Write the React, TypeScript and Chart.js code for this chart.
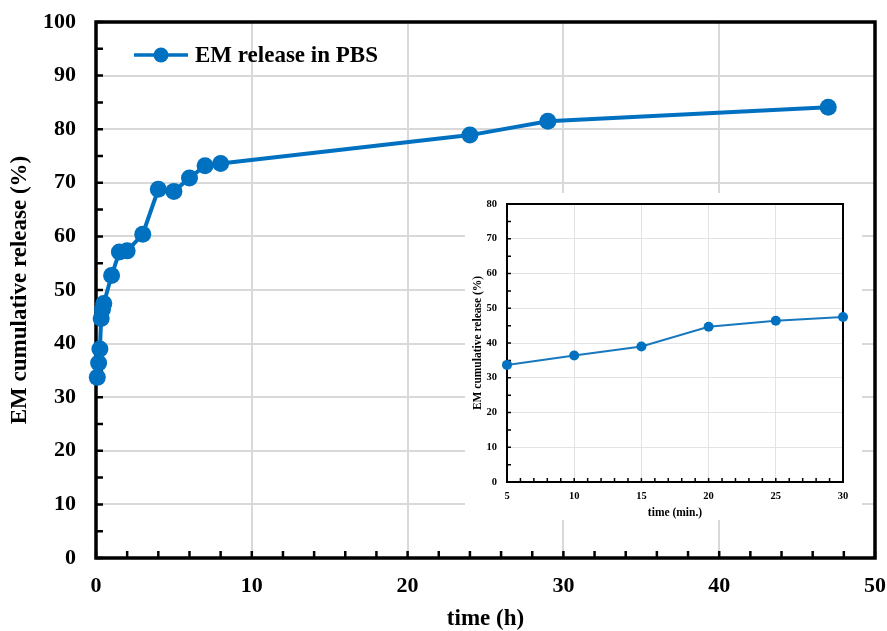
import React, { useEffect, useRef } from "react";
import { Chart, registerables } from "chart.js";

Chart.register(...registerables);

// ---- data ----
const mainTimesH = [0.083, 0.167, 0.25, 0.333, 0.417, 0.5, 1, 1.5, 2, 3, 4, 5, 6, 7, 8, 24, 29, 47];
const mainRelease = [33.7, 36.4, 39.0, 44.7, 46.4, 47.5, 52.7, 57.1, 57.3, 60.4, 68.8, 68.4, 70.9, 73.2, 73.6, 78.9, 81.5, 84.1];
const insetTimesMin = [5, 10, 15, 20, 25, 30];
const insetRelease = [33.7, 36.4, 39.0, 44.7, 46.4, 47.5];

const legendLabel = "EM release in PBS";
const mainXTitle = "time (h)";
const insetXTitle = "time (min.)";
const yTitle = "EM cumulative release (%)";

const FONT = "'Liberation Serif', 'Times New Roman', serif";
const BLUE = "#0070C0";

type FrameOpts = { lw: number; tickLen: number; tickW: number; xMinor: number; yMinor: number };

function framePlugin(o: FrameOpts) {
  return {
    id: "frame",
    beforeDatasetsDraw(chart: any) {
      const { ctx, chartArea, scales } = chart;
      const { left, right, top, bottom } = chartArea;
      const x = scales.x;
      const y = scales.y;
      ctx.save();
      ctx.strokeStyle = "#000";
      ctx.lineWidth = o.tickW;
      ctx.beginPath();
      for (let v = x.min; v <= x.max + 1e-9; v += o.xMinor) {
        const px = x.getPixelForValue(v);
        ctx.moveTo(px, bottom);
        ctx.lineTo(px, bottom - o.tickLen);
      }
      for (let v = y.min; v <= y.max + 1e-9; v += o.yMinor) {
        const py = y.getPixelForValue(v);
        ctx.moveTo(left, py);
        ctx.lineTo(left + o.tickLen, py);
      }
      ctx.stroke();
      ctx.lineWidth = o.lw;
      ctx.strokeRect(left, top, right - left, bottom - top);
      ctx.restore();
    },
  };
}

const legendPlugin = {
  id: "innerLegend",
  afterDraw(chart: any) {
    const { ctx, chartArea } = chart;
    const y = chartArea.top + 33;
    const x0 = chartArea.left + 38;
    ctx.save();
    ctx.strokeStyle = BLUE;
    ctx.lineWidth = 3.5;
    ctx.beginPath();
    ctx.moveTo(x0, y);
    ctx.lineTo(x0 + 54, y);
    ctx.stroke();
    ctx.fillStyle = BLUE;
    ctx.beginPath();
    ctx.arc(x0 + 27, y, 7.5, 0, Math.PI * 2);
    ctx.fill();
    ctx.fillStyle = "#000";
    ctx.font = `bold 23px ${FONT}`;
    ctx.textBaseline = "middle";
    ctx.textAlign = "left";
    ctx.fillText(legendLabel, x0 + 61, y + 1);
    ctx.restore();
  },
};

const noPadX = (h: number) => (s: any) => {
  s.height = h;
  s.paddingLeft = 0;
  s.paddingRight = 0;
};
const noPadY = (w: number) => (s: any) => {
  s.width = w;
  s.paddingTop = 0;
  s.paddingBottom = 0;
};

function MainChart() {
  const ref = useRef<HTMLCanvasElement | null>(null);
  useEffect(() => {
    if (!ref.current) return;
    const tickFont = { family: FONT, size: 22, weight: "bold" as const };
    const chart = new Chart(ref.current, {
      type: "line",
      data: {
        datasets: [
          {
            label: legendLabel,
            data: mainTimesH.map((t, i) => ({ x: t, y: mainRelease[i] })),
            borderColor: BLUE,
            backgroundColor: BLUE,
            borderWidth: 4,
            pointRadius: 8.5,
            pointBorderWidth: 0,
            pointBackgroundColor: BLUE,
            tension: 0,
            clip: false as any,
          },
        ],
      },
      options: {
        animation: false,
        responsive: false,
        layout: { padding: { top: 22, right: 12, left: 0, bottom: 0 } },
        plugins: { legend: { display: false }, tooltip: { enabled: false } },
        scales: {
          x: {
            type: "linear",
            min: 0,
            max: 50,
            ticks: { stepSize: 10, color: "#000", font: tickFont, padding: 15, maxRotation: 0 },
            grid: { color: "#d9d9d9", lineWidth: 2, drawTicks: false },
            border: { display: false },
            title: {
              display: true,
              text: mainXTitle,
              color: "#000",
              font: { family: FONT, size: 23, weight: "bold", lineHeight: 1 },
              padding: { top: 0, bottom: 0 },
            },
            afterFit: noPadX(73),
          },
          y: {
            min: 0,
            max: 100,
            ticks: { stepSize: 10, color: "#000", font: tickFont, padding: 20 },
            grid: { color: "#d9d9d9", lineWidth: 2, drawTicks: false },
            border: { display: false },
            title: {
              display: true,
              text: yTitle,
              color: "#000",
              font: { family: FONT, size: 23, weight: "bold", lineHeight: 1 },
              padding: { top: 8.5, bottom: 0 },
            },
            afterFit: noPadY(96),
          },
        },
      },
      plugins: [framePlugin({ lw: 3.5, tickLen: 7, tickW: 2.5, xMinor: 2, yMinor: 5 }), legendPlugin],
    });
    return () => chart.destroy();
  }, []);
  return (
    <canvas
      ref={ref}
      width={887}
      height={631}
      style={{ position: "absolute", left: 0, top: 0, width: 887, height: 631 }}
    />
  );
}

function InsetChart() {
  const ref = useRef<HTMLCanvasElement | null>(null);
  useEffect(() => {
    if (!ref.current) return;
    const tickFont = { family: FONT, size: 10.5, weight: "bold" as const };
    const chart = new Chart(ref.current, {
      type: "line",
      data: {
        datasets: [
          {
            label: legendLabel,
            data: insetTimesMin.map((t, i) => ({ x: t, y: insetRelease[i] })),
            borderColor: "#1878bd",
            backgroundColor: "#1878bd",
            borderWidth: 2,
            pointRadius: 5,
            pointBorderWidth: 0,
            pointBackgroundColor: BLUE,
            tension: 0,
            clip: false as any,
          },
        ],
      },
      options: {
        animation: false,
        responsive: false,
        layout: { padding: { top: 11, right: 19, left: 0, bottom: 0 } },
        plugins: { legend: { display: false }, tooltip: { enabled: false } },
        scales: {
          x: {
            type: "linear",
            min: 5,
            max: 30,
            ticks: { stepSize: 5, color: "#000", font: tickFont, padding: 8, maxRotation: 0 },
            grid: { color: "#e3e3e3", lineWidth: 1, drawTicks: false },
            border: { display: false },
            title: {
              display: true,
              text: insetXTitle,
              color: "#000",
              font: { family: FONT, size: 11.5, weight: "bold", lineHeight: 1 },
              padding: { top: 0, bottom: 1.25 },
            },
            afterFit: noPadX(38),
          },
          y: {
            min: 0,
            max: 80,
            ticks: { stepSize: 10, color: "#000", font: tickFont, padding: 10 },
            grid: { color: "#e3e3e3", lineWidth: 1, drawTicks: false },
            border: { display: false },
            title: {
              display: true,
              text: yTitle,
              color: "#000",
              font: { family: FONT, size: 11.5, weight: "bold", lineHeight: 1 },
              padding: { top: 7.25, bottom: 0 },
            },
            afterFit: noPadY(42),
          },
        },
      },
      plugins: [framePlugin({ lw: 2, tickLen: 4, tickW: 1.5, xMinor: 1, yMinor: 5 })],
    });
    return () => chart.destroy();
  }, []);
  return (
    <canvas
      ref={ref}
      width={397}
      height={327}
      style={{ position: "absolute", left: 465, top: 193, width: 397, height: 327, background: "#fff" }}
    />
  );
}

export default function App() {
  return (
    <div style={{ position: "absolute", left: 0, top: 0, width: 887, height: 631, background: "#fff" }}>
      <MainChart />
      <InsetChart />
    </div>
  );
}
